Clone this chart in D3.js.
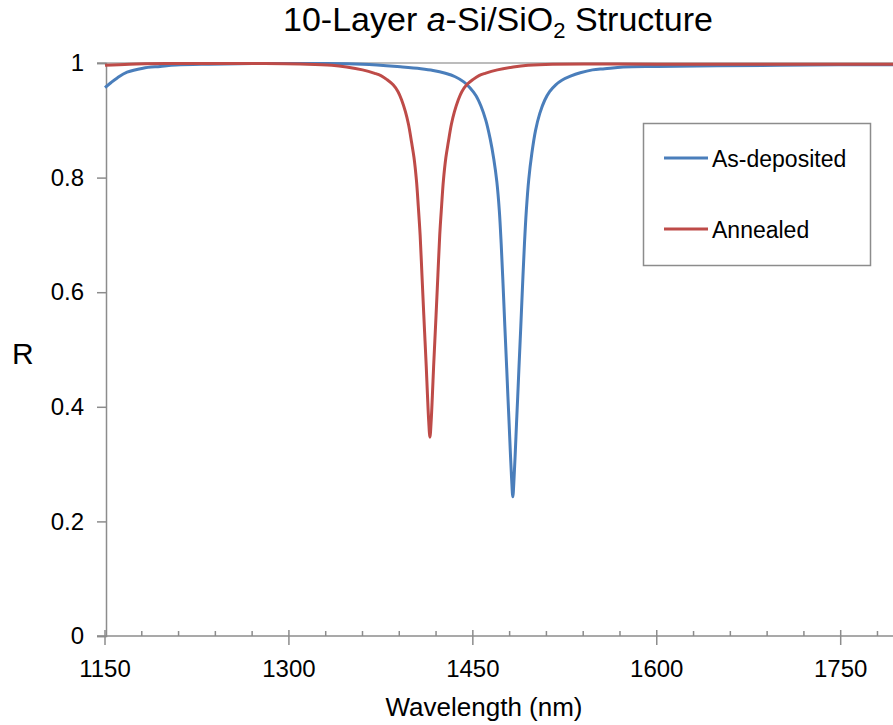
<!DOCTYPE html>
<html>
<head>
  <meta charset="utf-8">
  <script src="https://cdn.jsdelivr.net/npm/d3@7"></script>
  <style>
    body { margin: 0; background: #fff; }
    text { font-family: "Liberation Sans", Arial, sans-serif; fill: #000; }
  </style>
</head>
<body>
  <div id="plot"></div>
  <script>

    // wavelength (nm) and reflectance
    var blueWl = [1150, 1155, 1160, 1168, 1181, 1195, 1208, 1235, 1270, 1320, 1360,
                  1392.6, 1407.6, 1417.6, 1427.6, 1435.6, 1442.6, 1447.6, 1452.6, 1456.6, 1460.6,
                  1464.1, 1467.1, 1469.6, 1471.6, 1473.1, 1474.6, 1476.1, 1477.6, 1478.6, 1479.6,
                  1480.6, 1481.6, 1482.6,
                  1483.6, 1484.6, 1485.6, 1486.6, 1487.6, 1489.1, 1490.6, 1492.1, 1493.6, 1495.6,
                  1498.1, 1501.1, 1504.6, 1508.6, 1512.6, 1517.6, 1522.6, 1529.6, 1537.6, 1547.6,
                  1557.6, 1572.6, 1600, 1650, 1700, 1750, 1800];
    var blueR  = [0.957, 0.966, 0.974, 0.984, 0.991, 0.994, 0.9965, 0.998, 0.999, 0.999, 0.998,
                  0.993, 0.99, 0.987, 0.982, 0.976, 0.967, 0.957, 0.943, 0.925, 0.9,
                  0.868, 0.832, 0.792, 0.742, 0.685, 0.615, 0.54, 0.468, 0.418, 0.37,
                  0.32, 0.275, 0.243,
                  0.275, 0.32, 0.37, 0.418, 0.468, 0.54, 0.615, 0.685, 0.742, 0.797,
                  0.842, 0.882, 0.912, 0.935, 0.95, 0.962, 0.97, 0.977, 0.983, 0.988,
                  0.99, 0.993, 0.994, 0.995, 0.996, 0.997, 0.997];

    var redWl = [1150, 1170, 1200, 1280, 1315, 1335, 1347, 1360, 1370, 1375, 1380, 1385, 1389, 1392,
                 1395, 1397.5, 1400, 1402, 1404, 1405.5, 1407, 1408.5, 1410, 1411, 1412, 1413, 1414,
                 1415,
                 1416, 1417, 1418, 1419, 1420, 1421.5, 1423, 1424.5, 1426, 1428, 1430, 1432.5, 1435,
                 1438, 1441, 1445, 1450, 1455, 1460, 1470, 1483, 1495, 1515, 1600, 1700, 1800];
    var redR  = [0.996, 0.998, 0.999, 0.999, 0.998, 0.996, 0.993, 0.988, 0.982, 0.978, 0.971, 0.962, 0.95, 0.935,
                 0.915, 0.893, 0.862, 0.835, 0.795, 0.75, 0.70, 0.63, 0.56, 0.515, 0.47, 0.42, 0.375,
                 0.347,
                 0.375, 0.42, 0.47, 0.515, 0.56, 0.63, 0.70, 0.75, 0.795, 0.835, 0.862, 0.893, 0.915,
                 0.935, 0.95, 0.962, 0.971, 0.978, 0.982, 0.988, 0.993, 0.996, 0.998, 0.998, 0.998, 0.998];

    var xTicks = [1150, 1300, 1450, 1600, 1750];
    var yTicks = [0, 0.2, 0.4, 0.6, 0.8, 1];
    var seriesNames = ["As-deposited", "Annealed"];
    var seriesColors = ["#4a7ebb", "#be4b48"];

    var W = 893, H = 725;
    var axisCol = "#8c8c8c";

    var svg = d3.select("#plot").append("svg")
      .attr("width", W)
      .attr("height", H);

    svg.append("rect").attr("width", W).attr("height", H).attr("fill", "#fff");

    var x = d3.scaleLinear().domain([1150, 1800]).range([105, 902]);
    var y = d3.scaleLinear().domain([0, 1]).range([636, 63]);

    // top gridline at 1
    svg.append("line")
      .attr("x1", 97).attr("x2", W)
      .attr("y1", y(1)).attr("y2", y(1))
      .attr("stroke", "#a6a6a6").attr("stroke-width", 1.5);

    // y axis
    var yAxis = d3.axisLeft(y).tickValues(yTicks).tickSize(9).tickFormat(d3.format("~g"));
    var gy = svg.append("g").attr("transform", "translate(" + 106 + ",0)").call(yAxis);
    gy.select(".domain").attr("stroke", axisCol).attr("stroke-width", 1.5);
    gy.selectAll(".tick line").attr("stroke", axisCol).attr("stroke-width", 1.5);
    gy.selectAll(".tick text")
      .attr("x", -22)
      .style("font-size", "24px")
      .style("font-family", "Liberation Sans, Arial, sans-serif")
      .attr("fill", "#000");

    // x axis: minor ticks every 30 nm pointing into the plot
    var minor = d3.range(1180, 1800, 30).filter(function(d) { return xTicks.indexOf(d) < 0; });
    var gx = svg.append("g").attr("transform", "translate(0," + y(0) + ")");
    gx.append("line")
      .attr("x1", 97).attr("x2", W)
      .attr("stroke", axisCol).attr("stroke-width", 1.5);
    gx.selectAll(".minor").data(minor).enter().append("line")
      .attr("class", "minor")
      .attr("x1", function(d) { return x(d); })
      .attr("x2", function(d) { return x(d); })
      .attr("y1", -5).attr("y2", 0)
      .attr("stroke", axisCol).attr("stroke-width", 1.5);
    gx.selectAll(".major").data(xTicks).enter().append("line")
      .attr("class", "major")
      .attr("x1", function(d) { return x(d); })
      .attr("x2", function(d) { return x(d); })
      .attr("y1", -6).attr("y2", 9)
      .attr("stroke", axisCol).attr("stroke-width", 1.5);
    gx.selectAll(".lab").data(xTicks).enter().append("text")
      .attr("class", "lab")
      .attr("x", function(d) { return x(d); })
      .attr("y", 41)
      .attr("text-anchor", "middle")
      .style("font-size", "24px")
      .text(function(d) { return d; });

    // curves
    var line = d3.line()
      .x(function(d) { return x(d[0]); })
      .y(function(d) { return y(d[1]); })
      .curve(d3.curveCatmullRom.alpha(0.5));

    var blue = blueWl.map(function(w, i) { return [w, blueR[i]]; });
    var red = redWl.map(function(w, i) { return [w, redR[i]]; });

    svg.append("path").attr("d", line(blue))
      .attr("fill", "none").attr("stroke", seriesColors[0]).attr("stroke-width", 3);
    svg.append("path").attr("d", line(red))
      .attr("fill", "none").attr("stroke", seriesColors[1]).attr("stroke-width", 3);

    // title
    var title = svg.append("text")
      .attr("x", 498).attr("y", 31)
      .attr("text-anchor", "middle")
      .style("font-size", "34px");
    title.append("tspan").text("10-Layer ");
    title.append("tspan").style("font-style", "italic").text("a");
    title.append("tspan").text("-Si/SiO");
    title.append("tspan").attr("dy", 7).style("font-size", "22px").text("2");
    title.append("tspan").attr("dy", -7).text(" Structure");

    // axis titles
    svg.append("text")
      .attr("x", 484).attr("y", 716)
      .attr("text-anchor", "middle")
      .style("font-size", "26px")
      .text("Wavelength (nm)");

    svg.append("text")
      .attr("x", 12).attr("y", 364)
      .style("font-size", "30px")
      .text("R");

    // legend
    var lg = svg.append("g");
    lg.append("rect")
      .attr("x", 643.5).attr("y", 123.5)
      .attr("width", 227).attr("height", 142)
      .attr("fill", "#fff").attr("stroke", axisCol).attr("stroke-width", 1.5);
    var ly = [158, 229];
    seriesNames.forEach(function(name, i) {
      lg.append("line")
        .attr("x1", 664).attr("x2", 708)
        .attr("y1", ly[i]).attr("y2", ly[i])
        .attr("stroke", seriesColors[i]).attr("stroke-width", 3);
      lg.append("text")
        .attr("x", 712).attr("y", ly[i] + 9)
        .style("font-size", "23px")
        .text(name);
    });
  </script>
</body>
</html>
